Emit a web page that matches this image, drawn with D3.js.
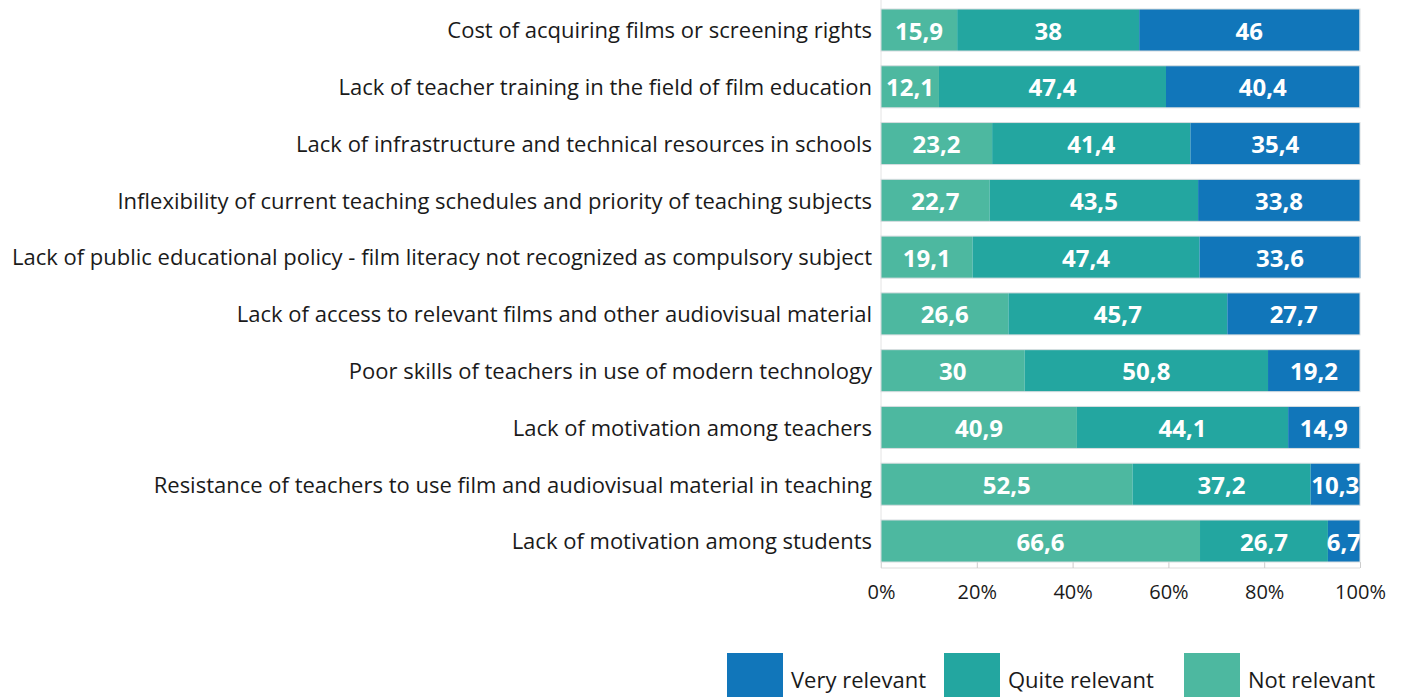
<!DOCTYPE html>
<html>
<head>
<meta charset="utf-8">
<script src="https://cdn.jsdelivr.net/npm/d3@7"></script>
<style>
  body { margin: 0; background: #fff; }
  svg { display: block; font-family: "Open Sans", "Noto Sans", sans-serif; }
</style>
</head>
<body>
<div id="main"></div>
<script>
/// data ///
const categories = [
    'Cost of acquiring films or screening rights',
    'Lack of teacher training in the field of film education',
    'Lack of infrastructure and technical resources in schools',
    'Inflexibility of current teaching schedules and priority of teaching subjects',
    'Lack of public educational policy - film literacy not recognized as compulsory subject',
    'Lack of access to relevant films and other audiovisual material',
    'Poor skills of teachers in use of modern technology',
    'Lack of motivation among teachers',
    'Resistance of teachers to use film and audiovisual material in teaching',
    'Lack of motivation among students'
];
const notRelevant   = [15.9, 12.1, 23.2, 22.7, 19.1, 26.6, 30, 40.9, 52.5, 66.6];
const quiteRelevant = [38, 47.4, 41.4, 43.5, 47.4, 45.7, 50.8, 44.1, 37.2, 26.7];
const veryRelevant  = [46, 40.4, 35.4, 33.8, 33.6, 27.7, 19.2, 14.9, 10.3, 6.7];
const seriesNames = ['Not relevant', 'Quite relevant', 'Very relevant'];
const tickValues = [0, 20, 40, 60, 80, 100];

/// chart ///
const w = 1406, h = 697;
const colors = { 'Not relevant': '#4db8a0', 'Quite relevant': '#23a6a0', 'Very relevant': '#1176ba' };

let svg = d3.select('#main').append('svg')
    .attr('width', w)
    .attr('height', h);

let rows = categories.map((c, i) => ({
    cat: c,
    'Not relevant': notRelevant[i],
    'Quite relevant': quiteRelevant[i],
    'Very relevant': veryRelevant[i]
}));

let stack = d3.stack().keys(seriesNames)(rows);

let xScale = d3.scaleLinear().domain([0, 100]).range([881, 1360]);
let yScale = d3.scaleBand().domain(categories).range([9, 562]).paddingInner(0.26).paddingOuter(0);

// x axis
let xAxis = d3.axisBottom(xScale)
    .tickValues(tickValues)
    .tickFormat(d => d + '%')
    .tickSizeOuter(0)
    .tickSize(6);

let gx = svg.append('g')
    .attr('transform', 'translate(0,562)')
    .call(xAxis);
gx.select('.domain').attr('stroke', '#ddd').attr('d', 'M881,6H1360');
gx.selectAll('.tick line').attr('stroke', '#ccc');
gx.selectAll('.tick text')
    .attr('y', 23)
    .attr('font-size', 20)
    .attr('fill', '#1a1a1a')
    .attr('font-family', '"Open Sans", sans-serif');

// left vertical line
svg.append('line')
    .attr('x1', 881).attr('x2', 881)
    .attr('y1', 0).attr('y2', 568)
    .attr('stroke', '#e4e4e4');

// bars
stack.forEach(s => {
    let g = svg.append('g').attr('fill', colors[s.key]);
    g.selectAll('rect')
        .data(s)
        .enter()
        .append('rect')
        .attr('x', d => xScale(d[0]))
        .attr('y', d => yScale(d.data.cat))
        .attr('width', d => xScale(d[1]) - xScale(d[0]))
        .attr('height', yScale.bandwidth());

    g.selectAll('text')
        .data(s)
        .enter()
        .append('text')
        .attr('x', d => (xScale(d[0]) + xScale(d[1])) / 2)
        .attr('y', d => yScale(d.data.cat) + yScale.bandwidth() / 2)
        .attr('dy', '0.4em')
        .attr('text-anchor', 'middle')
        .attr('fill', '#fff')
        .attr('font-weight', 'bold')
        .attr('font-size', 24)
        .text(d => String(d.data[s.key]).replace('.', ','));
});

// thin border around each bar
svg.append('g').selectAll('rect')
    .data(rows)
    .enter()
    .append('rect')
    .attr('x', xScale(0))
    .attr('y', d => yScale(d.cat))
    .attr('width', xScale(100) - xScale(0))
    .attr('height', yScale.bandwidth())
    .attr('fill', 'none')
    .attr('stroke', '#d8dde0')
    .attr('stroke-width', 1);

// category labels
svg.append('g').selectAll('text')
    .data(categories)
    .enter()
    .append('text')
    .attr('x', 872)
    .attr('y', d => yScale(d) + yScale.bandwidth() / 2)
    .attr('dy', '0.38em')
    .attr('text-anchor', 'end')
    .attr('font-size', 22)
    .attr('fill', '#1a1a1a')
    .text(d => d);

// legend
const legendItems = ['Very relevant', 'Quite relevant', 'Not relevant'];
const legendX = [727, 944, 1184];
let legend = svg.append('g');
legendItems.forEach((k, i) => {
    legend.append('rect')
        .attr('x', legendX[i]).attr('y', 653)
        .attr('width', 56).attr('height', 50)
        .attr('fill', colors[k]);
    legend.append('text')
        .attr('x', legendX[i] + 64).attr('y', 688)
        .attr('font-size', 22)
        .attr('fill', '#1a1a1a')
        .text(k);
});
</script>
</body>
</html>
